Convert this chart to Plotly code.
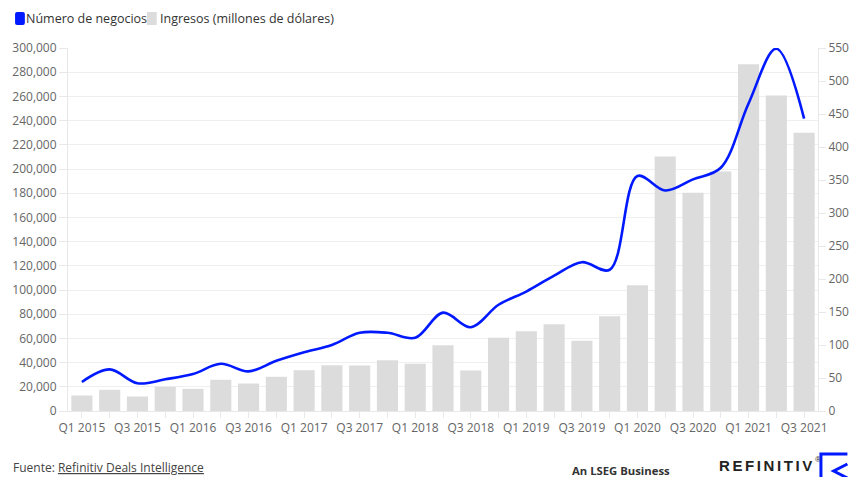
import plotly.graph_objects as go

quarters = [f"Q{q} {y}" for y in range(2015, 2022) for q in range(1, 5)][:27]
ingresos = [12800, 17500, 12000, 20000, 18300, 25800, 22700, 28300, 33700, 37900,
            37600, 42000, 39000, 54400, 33500, 60500, 66000, 71700, 58000, 78300,
            104000, 210300, 180300, 198000, 286600, 260700, 230000]
negocios = [44, 63, 42, 48, 56, 71.5, 60, 76, 89, 100, 118.5, 118.5, 111, 149, 127,
            161, 181, 205, 225.5, 214, 356, 334, 351, 368.5, 466, 549, 443]
tick_text = [q if i % 2 == 0 else "" for i, q in enumerate(quarters)]

L, R, T, B = 66, 30, 48, 66
W, H = 861, 477
PW, PH = W - L - R, H - T - B


def px(x):
    return (x - L) / PW


def py(y):
    return (H - B - y) / PH


FONT = "Open Sans"
fig = go.Figure()
fig.add_trace(go.Bar(x=quarters, y=ingresos, name="Ingresos (millones de dólares)",
                     marker=dict(color="#dcdcdc", line=dict(width=0)),
                     yaxis="y", showlegend=False, hoverinfo="skip"))
fig.add_trace(go.Scatter(x=quarters, y=negocios, name="Número de negocios",
                         mode="lines", line=dict(color="#0019ff", width=2.6, shape="spline", smoothing=1),
                         yaxis="y2", showlegend=False, hoverinfo="skip"))

axis_common = dict(linecolor="#e8e8e8", linewidth=1, showline=True, ticks="outside",
                   tickcolor="#e8e8e8", tickfont=dict(family=FONT, size=12, color="#666666"))

fig.update_layout(
    width=W, height=H, margin=dict(l=L, r=R, t=T, b=B),
    paper_bgcolor="white", plot_bgcolor="white", bargap=0.24,
    xaxis=dict(type="category", tickvals=quarters, ticktext=tick_text, ticklen=6,
               showgrid=False, **axis_common),
    yaxis=dict(range=[0, 300000], dtick=20000, tickformat=",d", ticklen=8,
               showgrid=True, gridcolor="#efefef", gridwidth=1, zeroline=False, **axis_common),
    yaxis2=dict(range=[0, 550], dtick=50, overlaying="y", side="right", ticklen=7,
                showgrid=False, zeroline=False, **axis_common),
)

shapes = []
# legend markers
shapes.append(dict(type="path", xref="paper", yref="paper",
                   path=(f"M {px(14)} {py(12)} L {px(20)} {py(12)} Q {px(22)} {py(12)} {px(22)} {py(14)} "
                         f"L {px(22)} {py(23)} Q {px(22)} {py(25)} {px(20)} {py(25)} L {px(14)} {py(25)} "
                         f"Q {px(12)} {py(25)} {px(12)} {py(23)} L {px(12)} {py(14)} Q {px(12)} {py(12)} {px(14)} {py(12)} Z"),
                   fillcolor="#0019ff", line=dict(width=0)))
shapes.append(dict(type="rect", xref="paper", yref="paper", x0=px(146.5), x1=px(156.5),
                   y0=py(25), y1=py(12), fillcolor="#dcdcdc", line=dict(width=0)))
# logo bracket
shapes.append(dict(type="path", xref="paper", yref="paper",
                   path=f"M {px(861)} {py(454)} L {px(834)} {py(454)} L {px(834)} {py(477)}",
                   line=dict(color="#0019ff", width=3)))
shapes.append(dict(type="path", xref="paper", yref="paper",
                   path=f"M {px(861)} {py(464)} L {px(847)} {py(471)} L {px(861)} {py(478)}",
                   line=dict(color="#0019ff", width=3)))
fig.update_layout(shapes=shapes)

ann = []
ann.append(dict(text="Número de negocios", x=px(21), y=py(19), xref="paper", yref="paper",
                xanchor="left", yanchor="middle", showarrow=False,
                font=dict(family=FONT, size=12.5, color="#333333")))
ann.append(dict(text="Ingresos (millones de dólares)", x=px(158), y=py(19), xref="paper", yref="paper",
                xanchor="left", yanchor="middle", showarrow=False,
                font=dict(family=FONT, size=12.5, color="#333333")))
ann.append(dict(text="Fuente: <u>Refinitiv Deals Intelligence</u>", x=px(8), y=py(467), xref="paper", yref="paper",
                xanchor="left", yanchor="middle", showarrow=False,
                font=dict(family=FONT, size=12, color="#444444")))
ann.append(dict(text="<b>An LSEG Business</b>", x=px(578), y=py(470), xref="paper", yref="paper",
                xanchor="left", yanchor="middle", showarrow=False,
                font=dict(family=FONT, size=11.3, color="#333333")))
ann.append(dict(text="<b><span style='letter-spacing:2.6px'>REFINITIV</span></b>", x=px(728), y=py(465.5),
                xref="paper", yref="paper", xanchor="left", yanchor="middle", showarrow=False,
                font=dict(family="Liberation Sans", size=15, color="#222222")))
ann.append(dict(text="®", x=px(831), y=py(460),
                xref="paper", yref="paper", xanchor="center", yanchor="middle", showarrow=False,
                font=dict(family="Liberation Sans", size=8, color="#222222")))
fig.update_layout(annotations=ann)

fig.write_html("out.html", post_script="document.body.style.margin='0';",
               config={"displayModeBar": False})
